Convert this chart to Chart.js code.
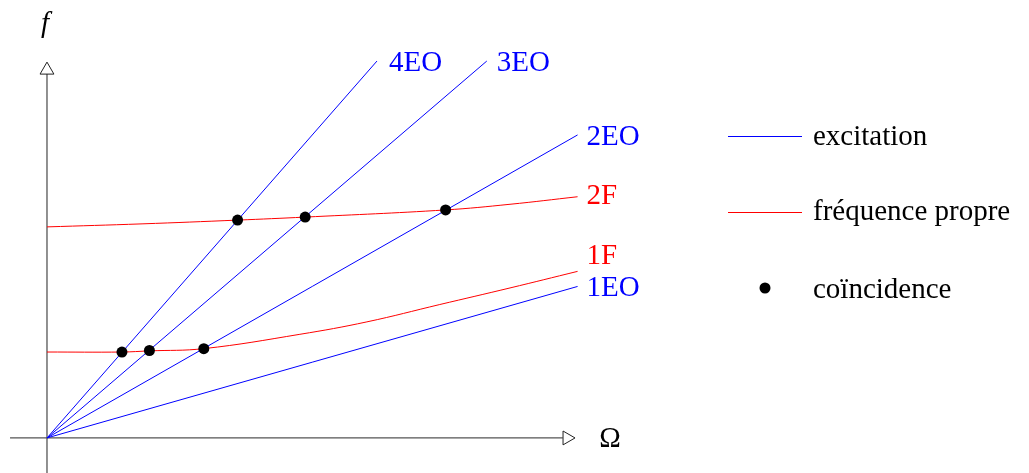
<!DOCTYPE html>
<html>
<head>
<meta charset="utf-8">
<script src="https://cdn.jsdelivr.net/npm/chart.js@4.4.0/dist/chart.umd.min.js"></script>
<style>
  html, body { margin: 0; padding: 0; background: #fff; overflow: hidden; }
</style>
</head>
<body>
<canvas id="chart" width="1029" height="473"></canvas>
<script>
// droites d'excitation (ordres moteur), de l'origine jusqu'au point final
const eoNoms = ['1EO', '2EO', '3EO', '4EO'];
const eoFinX = [10.05, 10.05, 8.33, 6.25];
const eoFinY = [4.02, 8.04, 10.0, 10.0];

// frequences propres
const f1X = [0, 1.42, 1.94, 2.97, 4.79, 6.06, 7.44, 8.77, 10.05];
const f1Y = [2.28, 2.28, 2.31, 2.37, 2.75, 3.08, 3.54, 3.98, 4.42];
const f2X = [0, 1.8, 3.61, 4.89, 7.55, 8.77, 10.05];
const f2Y = [5.60, 5.68, 5.78, 5.86, 6.05, 6.20, 6.40];
const fNoms = ['1F', '2F'];

// coincidences
const coinX = [1.42, 1.94, 2.97, 3.61, 4.89, 7.55];
const coinY = [2.28, 2.32, 2.37, 5.78, 5.86, 6.05];

const legendeTextes = ['excitation', 'fréquence propre', 'coïncidence'];

const BLEU = '#0000ff';
const ROUGE = '#ff0000';
const POLICE = '29px "Liberation Serif", "Times New Roman", serif';

const pts = (xs, ys) => xs.map((x, i) => ({x: x, y: ys[i]}));

const datasets = [];
datasets.push({
  label: 'coincidence', data: pts(coinX, coinY), showLine: false,
  pointRadius: 5.5, pointBackgroundColor: '#000', pointBorderWidth: 0
});
// decalages des etiquettes (px)
const eoDecal = [[9, 2], [9, 2], [10, 2], [12, 2]];
eoNoms.forEach((nom, i) => {
  datasets.push({
    label: nom, data: [{x: 0, y: 0}, {x: eoFinX[i], y: eoFinY[i]}],
    showLine: true, borderColor: BLEU, borderWidth: 1, pointRadius: 0,
    etiquette: nom, couleurEtiquette: BLEU, decal: eoDecal[i]
  });
});
const fDecal = [[9, -15], [9, 0]];
[[f1X, f1Y], [f2X, f2Y]].forEach((c, i) => {
  datasets.push({
    label: fNoms[i], data: pts(c[0], c[1]),
    showLine: true, borderColor: ROUGE, borderWidth: 1, pointRadius: 0,
    tension: 0.4,
    etiquette: fNoms[i], couleurEtiquette: ROUGE, decal: fDecal[i]
  });
});
// axes avec fleches
datasets.push({
  label: 'flecheX', data: [{x: 9.85, y: 0}], showLine: false,
  pointStyle: 'triangle', rotation: 90, pointRadius: 8,
  pointBackgroundColor: '#fff', pointBorderColor: '#222', pointBorderWidth: 1
});
datasets.push({
  label: 'flecheY', data: [{x: 0, y: 9.76}], showLine: false,
  pointStyle: 'triangle', rotation: 0, pointRadius: 8,
  pointBackgroundColor: '#fff', pointBorderColor: '#222', pointBorderWidth: 1
});
datasets.push({
  label: 'axeX', data: [{x: -0.7, y: 0}, {x: 9.77, y: 0}],
  showLine: true, borderColor: '#555', borderWidth: 1.3, pointRadius: 0
});
datasets.push({
  label: 'axeY', data: [{x: 0, y: -0.93}, {x: 0, y: 9.66}],
  showLine: true, borderColor: '#555', borderWidth: 1.3, pointRadius: 0
});

const textes = {
  id: 'textes',
  afterDatasetsDraw(chart) {
    const ctx = chart.ctx;
    const sx = chart.scales.x, sy = chart.scales.y;
    ctx.save();
    ctx.font = POLICE;
    ctx.textBaseline = 'middle';
    ctx.textAlign = 'left';
    chart.data.datasets.forEach(ds => {
      if (!ds.etiquette) return;
      const fin = ds.data[ds.data.length - 1];
      ctx.fillStyle = ds.couleurEtiquette;
      ctx.fillText(ds.etiquette, sx.getPixelForValue(fin.x) + ds.decal[0], sy.getPixelForValue(fin.y) + ds.decal[1]);
    });
    // noms des axes
    ctx.fillStyle = '#000';
    ctx.textAlign = 'center';
    ctx.fillText('Ω', sx.getPixelForValue(10) + 35, sy.getPixelForValue(0) + 1);
    ctx.font = 'italic ' + POLICE;
    ctx.fillText('f', sx.getPixelForValue(0) - 2, sy.getPixelForValue(10) - 37);

    // legende
    ctx.font = POLICE;
    ctx.textAlign = 'left';
    ctx.lineWidth = 1;
    ctx.strokeStyle = BLEU;
    ctx.beginPath(); ctx.moveTo(728, 136.5); ctx.lineTo(802, 136.5); ctx.stroke();
    ctx.strokeStyle = ROUGE;
    ctx.beginPath(); ctx.moveTo(728, 212.5); ctx.lineTo(802, 212.5); ctx.stroke();
    ctx.fillStyle = '#000';
    ctx.beginPath(); ctx.arc(765, 288, 5.5, 0, Math.PI * 2); ctx.fill();
    ctx.fillText(legendeTextes[0], 813, 137);
    ctx.fillText(legendeTextes[1], 813, 212);
    ctx.fillText(legendeTextes[2], 813, 290);
    ctx.restore();
  }
};

new Chart(document.getElementById('chart'), {
  type: 'scatter',
  data: { datasets: datasets },
  options: {
    responsive: false,
    animation: false,
    layout: { padding: 0, autoPadding: false },
    scales: {
      x: { type: 'linear', min: -0.89, max: 18.6, display: false },
      y: { type: 'linear', min: -0.93, max: 11.62, display: false }
    },
    plugins: { legend: { display: false }, tooltip: { enabled: false } }
  },
  plugins: [textes]
});
</script>
</body>
</html>
